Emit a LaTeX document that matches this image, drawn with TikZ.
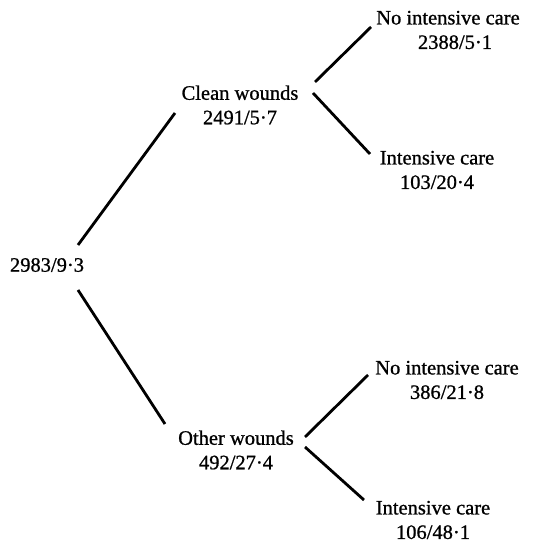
\documentclass[tikz,border=0pt]{standalone}
\usepackage{fontspec}
\setmainfont{Liberation Serif}
\newfontfamily\heavyserif[FakeBold=0.9]{Liberation Serif}
\usetikzlibrary{calc}
\begin{document}
\begin{tikzpicture}[x=1pt,y=1pt,
  lbl/.style={inner sep=0pt,align=center,font=\heavyserif\fontsize{20.5}{24.5}\selectfont},
  conn/.style={line width=2.8pt}]
\fill[white] (0,0) rectangle (546,543);
\useasboundingbox (0,0) rectangle (546,543);
\node[lbl] (root) at (47,278) {2983/9·3};
\node[lbl] (clean) at (240,438) {Clean wounds\\2491/5·7};
\node[lbl] (nic1) at (448,513) {No intensive care\\\hspace*{14pt}2388/5·1};
\node[lbl] (ic1) at (437,373) {Intensive care\\103/20·4};
\node[lbl] (other) at (236,93) {Other wounds\\492/27·4};
\node[lbl] (nic2) at (447,163) {No intensive care\\386/21·8};
\node[lbl] (ic2) at (433,23) {Intensive care\\106/48·1};
\draw[conn] ($(root)+(31,20)$) -- ($(clean)+(-65,-8)$);
\draw[conn] ($(root)+(31,-25)$) -- ($(other)+(-71,26)$);
\draw[conn] ($(clean)+(75,23)$) -- ($(nic1)+(-77,3)$);
\draw[conn] ($(clean)+(73,12)$) -- ($(ic1)+(-67,16)$);
\draw[conn] ($(other)+(69,13)$) -- ($(nic2)+(-79,5)$);
\draw[conn] ($(other)+(69,3)$) -- ($(ic2)+(-69,20)$);
\end{tikzpicture}
\end{document}
